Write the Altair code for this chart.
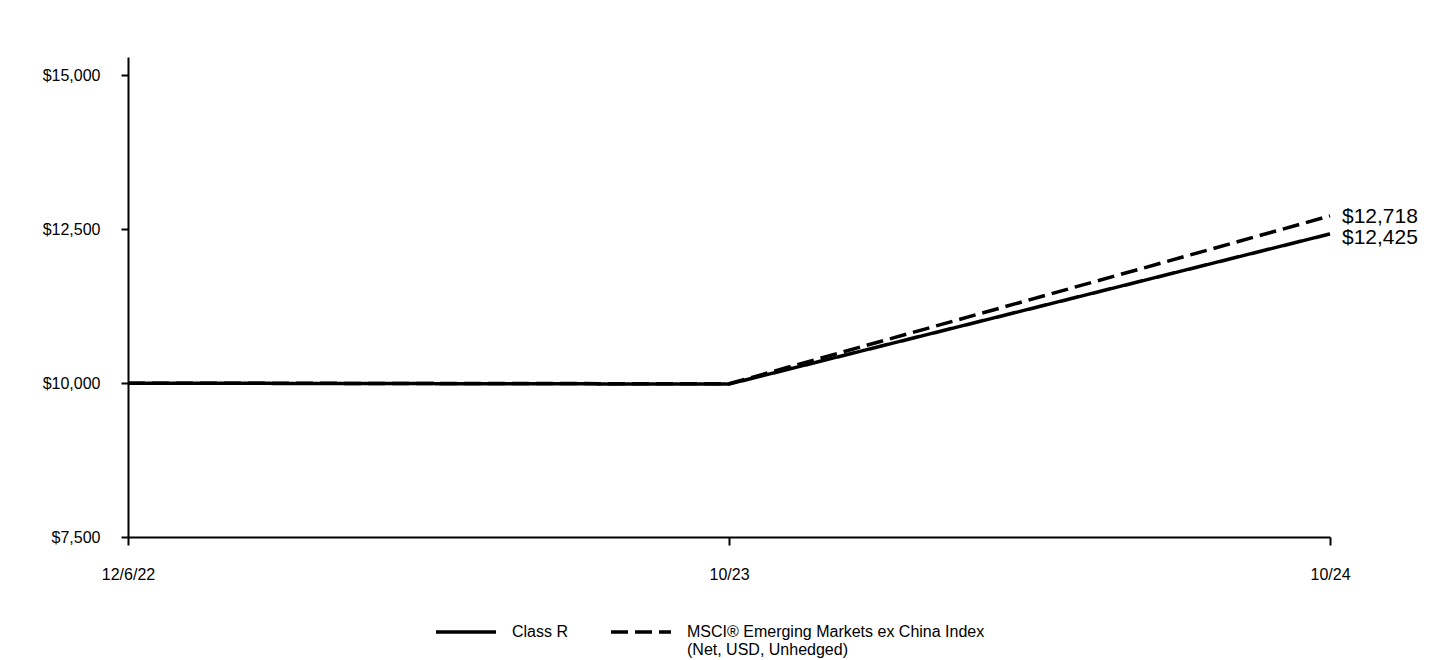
import altair as alt
import pandas as pd

dates = ["12/6/22", "10/23", "10/24"]
class_r = [10000, 9985, 12425]
index_vals = [10000, 9990, 12718]
series_names = ["Class R", "MSCI® Emerging Markets ex China Index\n(Net, USD, Unhedged)"]

rows = []
for d, v in zip(dates, class_r):
    rows.append({"date": d, "value": v, "series": series_names[0]})
for d, v in zip(dates, index_vals):
    rows.append({"date": d, "value": v, "series": series_names[1]})
df = pd.DataFrame(rows)

x = alt.X("date:O", sort=dates, scale=alt.Scale(padding=0),
          axis=alt.Axis(title=None, labelAngle=0, labelPadding=21, tickSize=8,
                        labelFontSize=16, labelColor="black", domainColor="black",
                        tickColor="black", domainWidth=2, tickWidth=2, grid=False))
y = alt.Y("value:Q", scale=alt.Scale(domain=[7500, 15300], nice=False, zero=False),
          axis=alt.Axis(title=None, values=[7500, 10000, 12500, 15000], format="$,.0f",
                        tickSize=7, labelPadding=21, labelFontSize=16, labelColor="black",
                        domainColor="black", tickColor="black", domainWidth=2, tickWidth=2,
                        grid=False))

lines = alt.Chart(df).mark_line(strokeWidth=3.5, color="black").encode(
    x=x, y=y,
    strokeDash=alt.StrokeDash("series:N", sort=series_names,
        scale=alt.Scale(domain=series_names, range=[[1, 0], [17, 7]]),
        legend=alt.Legend(title=None, orient="none", legendX=306, legendY=543,
                          direction="horizontal", symbolType="stroke", symbolSize=3600,
                          symbolStrokeWidth=3.5, symbolStrokeColor="black",
                          labelFontSize=16, labelColor="black", columnPadding=35,
                          labelOffset=14,
                          labelExpr="indexof(datum.label, '\\n') < 0 ? [datum.label, ''] : split(datum.label, '\\n')",
                          labelBaseline="middle", labelLimit=400))
)

last = df[df["date"] == dates[-1]].copy()
last["label"] = last["value"].map(lambda v: "${:,.0f}".format(v))

lbl_top = alt.Chart(last[last["series"] == series_names[1]]).mark_text(
    align="left", baseline="middle", dx=12, dy=1, fontSize=21, color="black"
).encode(x=alt.X("date:O", sort=dates), y="value:Q", text="label:N")
lbl_bot = alt.Chart(last[last["series"] == series_names[0]]).mark_text(
    align="left", baseline="middle", dx=12, dy=4, fontSize=21, color="black"
).encode(x=alt.X("date:O", sort=dates), y="value:Q", text="label:N")

chart = alt.layer(lines, lbl_top, lbl_bot).properties(
    width=1202, height=480,
    autosize=alt.AutoSizeParams(type="none"),
    padding={"left": 128, "top": 57, "right": 110, "bottom": 123},
).configure(font="Liberation Sans", view=alt.ViewConfig(stroke="transparent", strokeWidth=0))

chart.save("out.html", embed_options={"renderer": "svg", "actions": False})
